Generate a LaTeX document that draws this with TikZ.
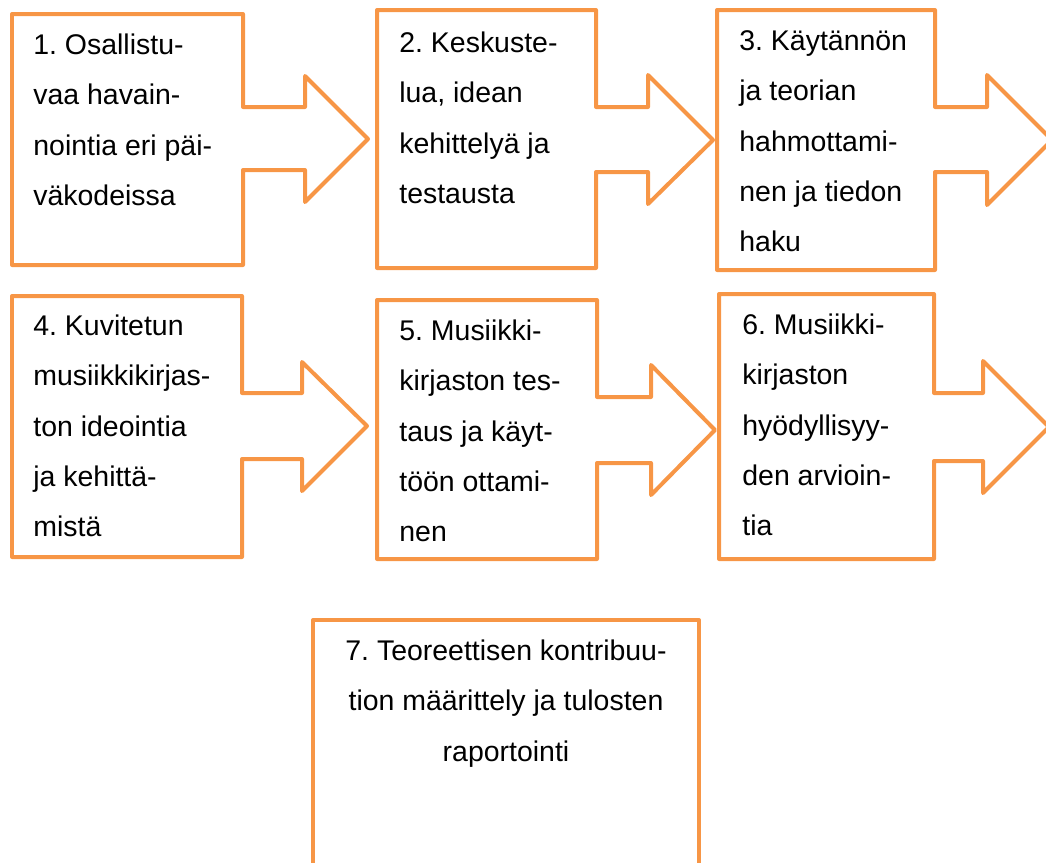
\documentclass[tikz,border=0pt]{standalone}
\usepackage{fontspec}
\setmainfont{Liberation Sans}
\usepackage{xcolor}
\usepackage{tikz}
\usetikzlibrary{positioning}
\definecolor{calloutorange}{HTML}{F79646}
\tikzset{
  callout/.style={draw=calloutorange,line width=0.08cm,line join=round},
  steptext/.style={anchor=north west,inner sep=0pt,align=left,font={\fontsize{16.2}{28.7}\selectfont\frenchspacing}}
}

\begin{document}
\begin{tikzpicture}[x=0.02cm,y=-0.02cm]
\useasboundingbox (0,0) rectangle (1046,863);
% upper row
\draw[callout] (12,14)--(243,14)--(243,107)--(305,107)--(305,76)--(368,139)--(305,202)--(305,170)--(243,170)--(243,265)--(12,265)--cycle;
\draw[callout] (377,10)--(596,10)--(596,107)--(648,107)--(648,75)--(713,140)--(648,204)--(648,172)--(596,172)--(596,268)--(377,268)--cycle;
\draw[callout] (717,10)--(935,10)--(935,107)--(987,107)--(987,75)--(1052,140)--(987,205)--(987,172)--(935,172)--(935,270)--(717,270)--cycle;
\node[steptext] (s1) at (33,18.6) {\strut 1. Osallistu-\\vaa havain-\\nointia eri päi-\\väkodeissa};
\node[steptext] (s2) at (399,16.6) {\strut 2. Keskuste-\\lua, idean\\kehittelyä ja\\testausta};
\node[steptext] (s3) at (739,14.6) {\strut 3. Käytännön\\ja teorian\\hahmottami-\\nen ja tiedon\\haku};
% lower row
\draw[callout] (12,296)--(242,296)--(242,393)--(302,393)--(302,362)--(367,426)--(302,491)--(302,459)--(242,459)--(242,557)--(12,557)--cycle;
\draw[callout] (377,300)--(597,300)--(597,397)--(651,397)--(651,365)--(715,430)--(651,495)--(651,463)--(597,463)--(597,559)--(377,559)--cycle;
\draw[callout] (719,294)--(934,294)--(934,393)--(983,393)--(983,361)--(1049,427)--(983,493)--(983,461)--(934,461)--(934,559)--(719,559)--cycle;
\node[steptext] (s4) at (33,299.6) {\strut 4. Kuvitetun\\musiikkikirjas-\\ton ideointia\\ja kehittä-\\mistä};
\node[steptext] (s5) at (399,304.6) {\strut 5. Musiikki-\\kirjaston tes-\\taus ja käyt-\\töön ottami-\\nen};
\node[steptext] (s6) at (742,298.6) {\strut 6. Musiikki-\\kirjaston\\hyödyllisyy-\\den arvioin-\\tia};
% last step
\draw[callout] (313,900)--(313,620)--(699,620)--(699,900);
\node[steptext,anchor=north,align=center] (s7) at (506,624.6) {\strut 7. Teoreettisen kontribuu-\\tion määrittely ja tulosten\\raportointi};
\end{tikzpicture}
\end{document}
